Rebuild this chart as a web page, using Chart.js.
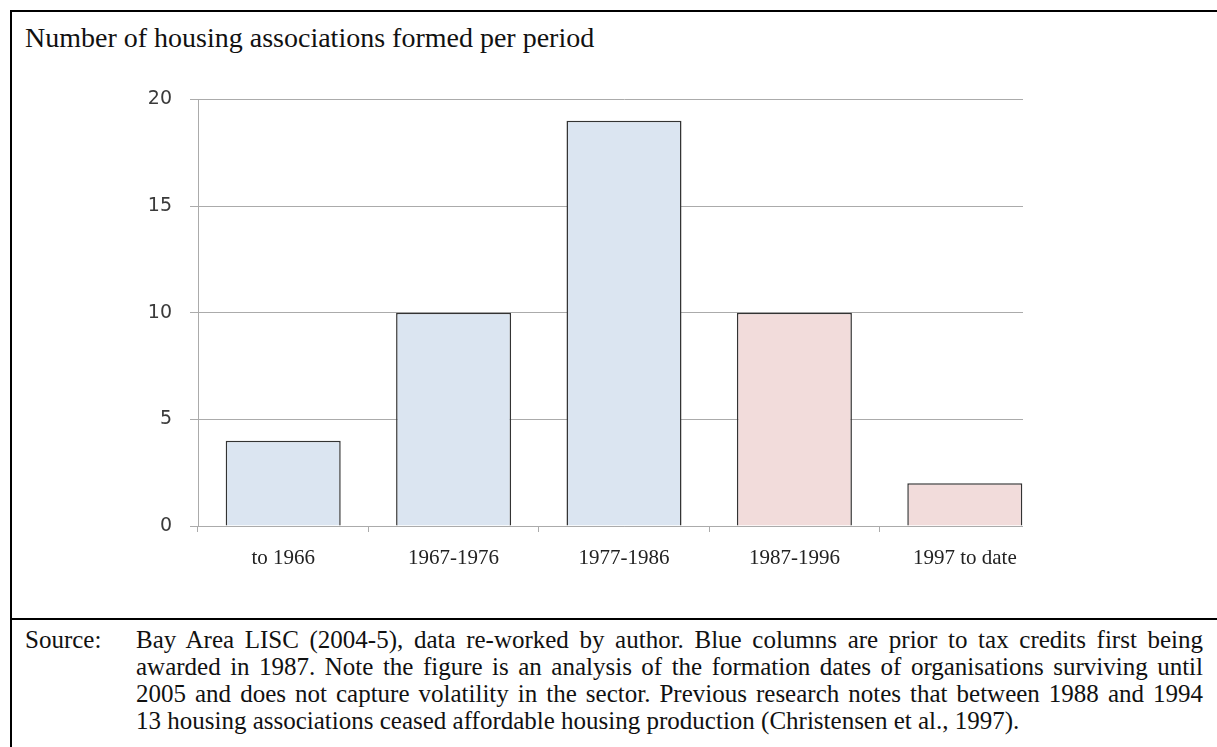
<!DOCTYPE html>
<html>
<head>
<meta charset="utf-8">
<script src="https://cdn.jsdelivr.net/npm/chart.js@4.4.1/dist/chart.umd.min.js"></script>
<style>
  html, body { margin: 0; padding: 0; background: #fff; width: 1217px; height: 747px; overflow: hidden; }
  #frame { position: absolute; left: 10px; top: 10px; width: 1230px; height: 760px;
           border-left: 2px solid #000; border-top: 2px solid #000; }
  #sep { position: absolute; left: 10px; top: 618px; width: 1230px; height: 2px; background: #000; }
  #title { position: absolute; left: 25px; top: 21px; font-family: "Liberation Serif", serif;
           font-size: 28px; line-height: 34px; color: #111; white-space: nowrap; }
  #chartBox { position: absolute; left: 0; top: 70px; width: 1023px; height: 520px; overflow: hidden; }
  #chartBox canvas { display: block; }
  #srcLabel { position: absolute; left: 25px; top: 626px; font-family: "Liberation Serif", serif;
              font-size: 25px; line-height: 27px; color: #111; }
  #note { position: absolute; left: 136px; top: 626px; width: 1067px; font-family: "Liberation Serif", serif;
          font-size: 25px; line-height: 27px; color: #111; }
  #note div { text-align: justify; text-align-last: justify; white-space: nowrap; }
  #note div.last { text-align-last: left; }
</style>
</head>
<body>
<div id="frame"></div>
<div id="title">Number of housing associations formed per period</div>
<div id="chartBox"><canvas id="chart" width="1060" height="516"></canvas></div>
<div id="sep"></div>
<div id="srcLabel">Source:</div>
<div id="note"></div>
<script>
// data
const periods = ['to 1966', '1967-1976', '1977-1986', '1987-1996', '1997 to date'];
const associationsFormed = [4, 10, 19, 10, 2];
const afterTaxCredits = [false, false, false, true, true];   // pink columns
const yTicks = [0, 5, 10, 15, 20];

const noteLines = [
  'Bay Area LISC (2004-5), data re-worked by author. Blue columns are prior to tax credits first being',
  'awarded in 1987. Note the figure is an analysis of the formation dates of organisations surviving until',
  '2005 and does not capture volatility in the sector. Previous research notes that between 1988 and 1994',
  '13 housing associations ceased affordable housing production (Christensen et al., 1997).'
];

const note = document.getElementById('note');
noteLines.forEach((line, i) => {
  const d = document.createElement('div');
  d.textContent = line;
  if (i === noteLines.length - 1) d.className = 'last';
  note.appendChild(d);
});

const blue = '#dbe5f1';
const pink = '#f2dcdb';
const gridGray = '#ababab';

new Chart(document.getElementById('chart'), {
  type: 'bar',
  data: {
    labels: periods,
    datasets: [{
      data: associationsFormed,
      backgroundColor: afterTaxCredits.map(p => p ? pink : blue),
      borderColor: '#333',
      borderWidth: 1.5,
      barPercentage: 0.675,
      categoryPercentage: 1
    }]
  },
  options: {
    responsive: false,
    animation: false,
    layout: { padding: { top: 18, right: 10, left: 0, bottom: 0 } },
    plugins: { legend: { display: false }, tooltip: { enabled: false } },
    scales: {
      y: {
        min: 0,
        max: 20,
        afterBuildTicks: s => { s.ticks = yTicks.map(v => ({ value: v })); },
        afterFit: s => { s.width = 198; },
        ticks: { color: '#3a3a3a', padding: 18, font: { family: 'DejaVu Sans', size: 19 } },
        grid: { color: gridGray, lineWidth: 1, tickLength: 8 },
        border: { color: gridGray, width: 1 }
      },
      x: {
        afterFit: s => { s.height = 60; },
        ticks: { color: '#222', padding: 14, font: { family: 'Liberation Serif', size: 21 } },
        grid: { drawOnChartArea: false, color: gridGray, tickLength: 6, offset: true },
        border: { color: gridGray, width: 1 }
      }
    }
  }
});
</script>
</body>
</html>
